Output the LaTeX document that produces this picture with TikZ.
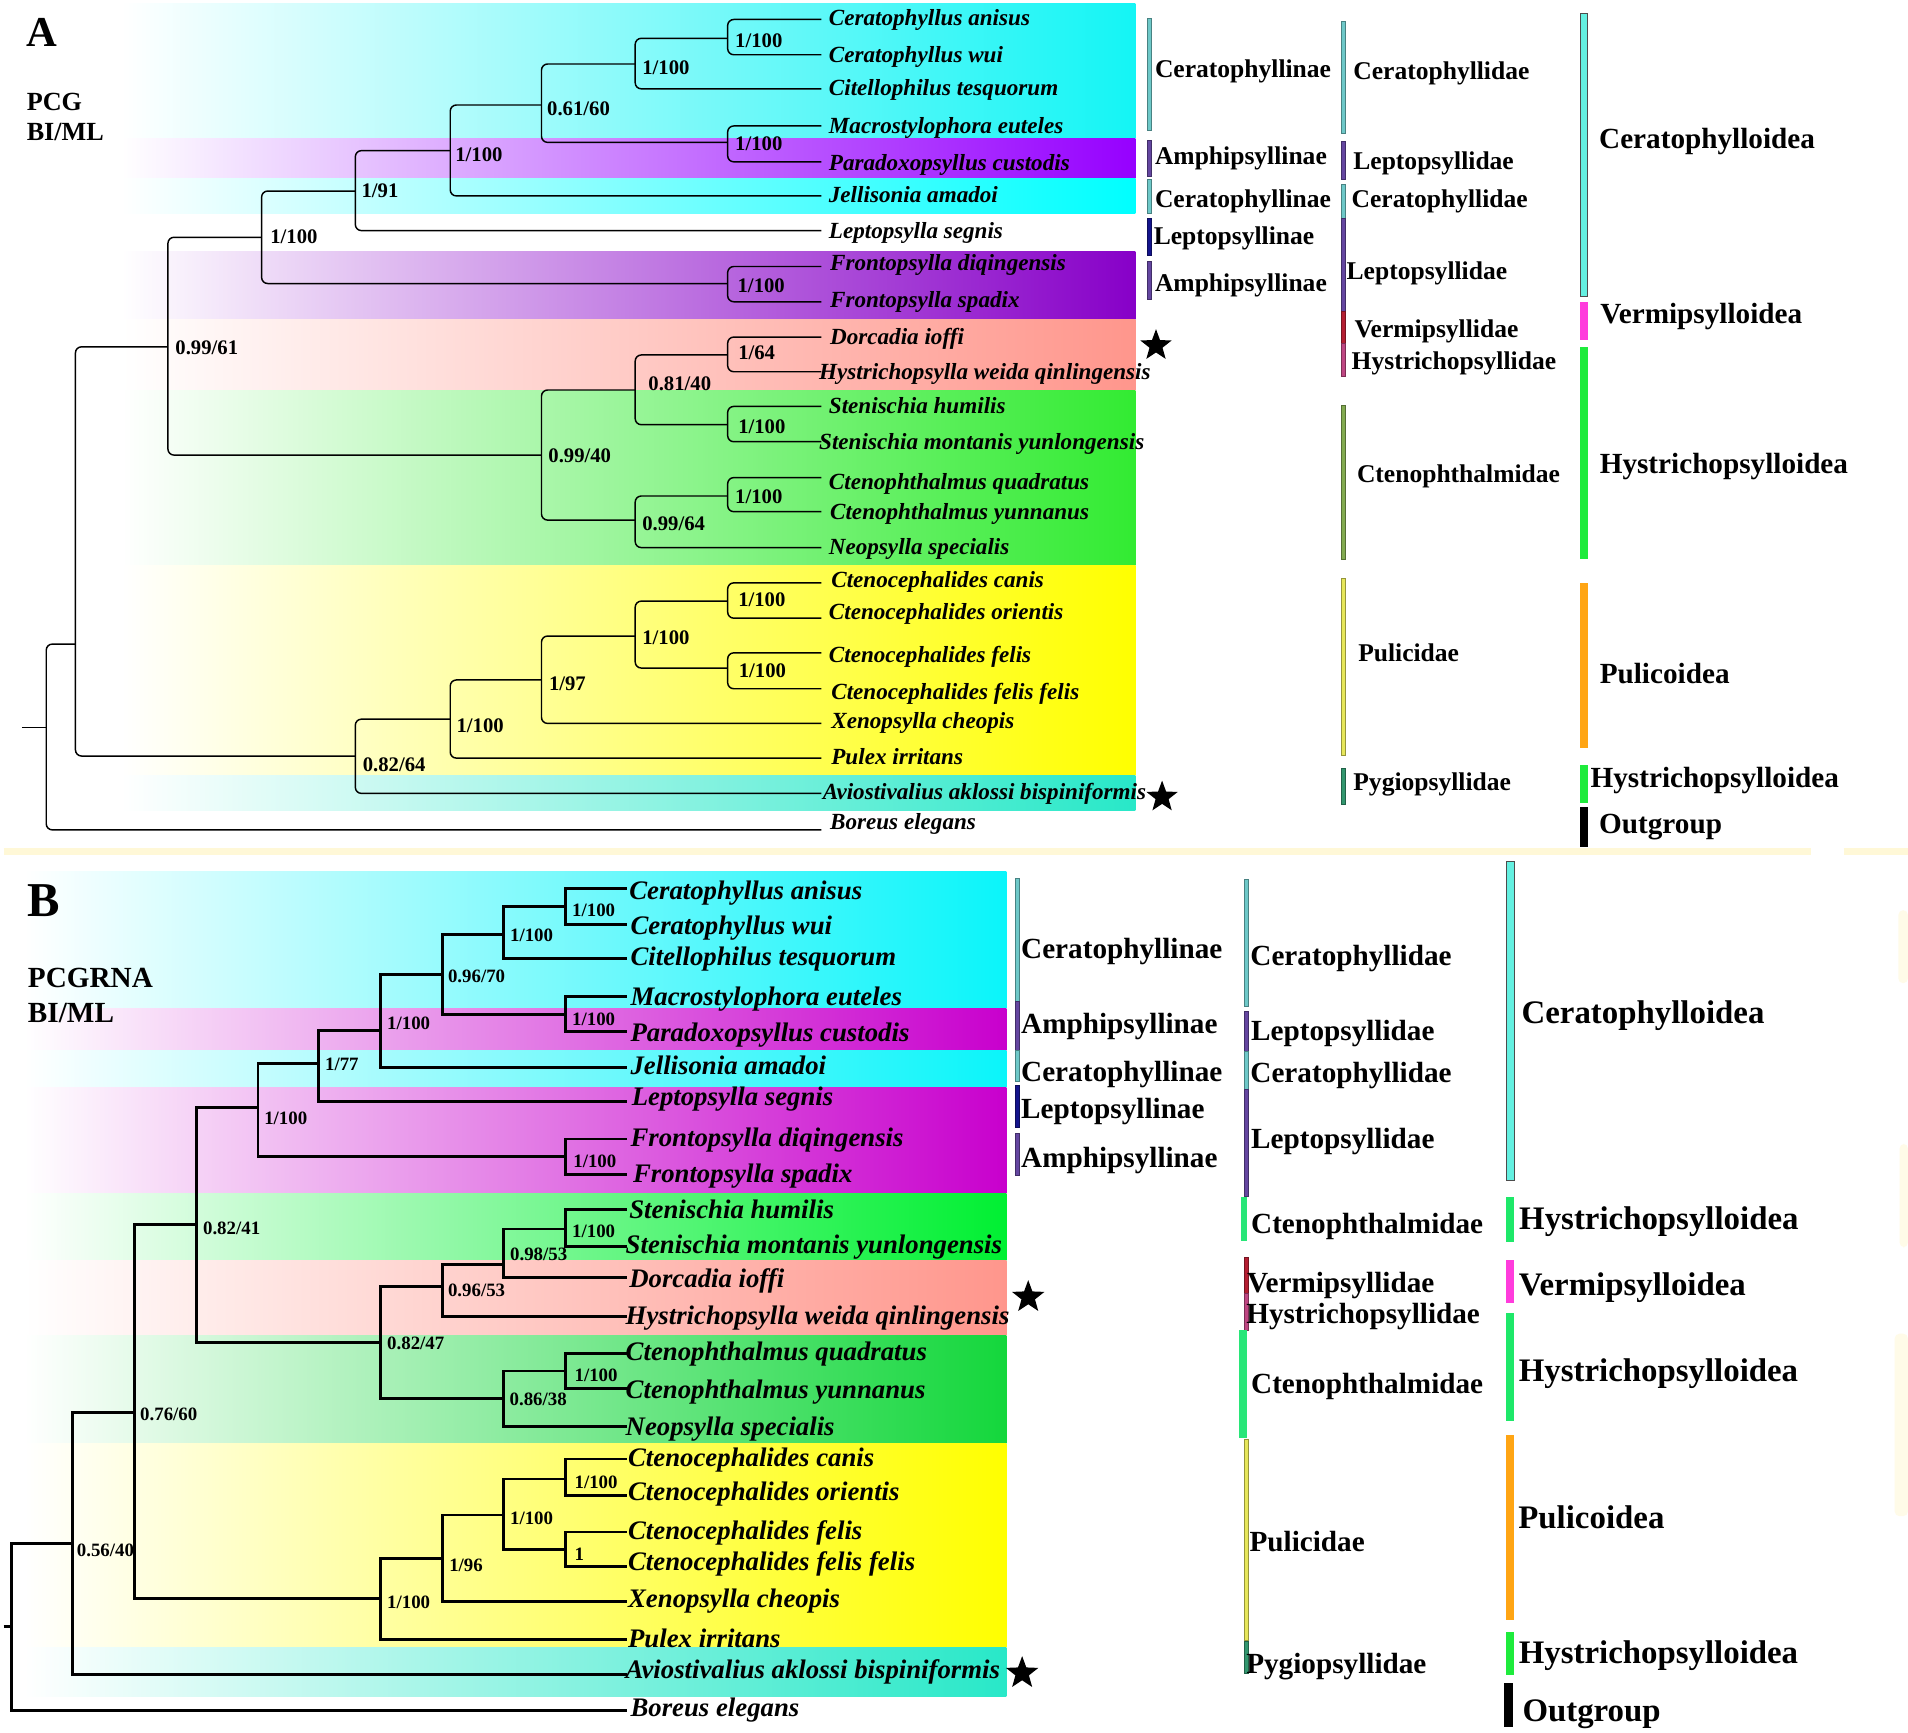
\documentclass[tikz,border=0pt]{standalone}
\usepackage{fontspec}
\setmainfont{Liberation Serif}
\usetikzlibrary{shapes.geometric}
% band colours
\definecolor{cyA}{RGB}{20,245,245}
\definecolor{cyA2}{RGB}{0,255,255}
\definecolor{puA1}{RGB}{150,0,255}
\definecolor{puA2}{RGB}{135,0,200}
\definecolor{pkA}{RGB}{255,150,140}
\definecolor{grA}{RGB}{50,235,50}
\definecolor{yeA}{RGB}{255,255,0}
\definecolor{tlA}{RGB}{40,232,200}
\definecolor{cyB}{RGB}{10,245,250}
\definecolor{puB}{RGB}{200,0,205}
\definecolor{grB1}{RGB}{0,240,50}
\definecolor{grB2}{RGB}{20,215,60}
\definecolor{paleY}{RGB}{255,248,215}
\definecolor{paleY2}{RGB}{255,251,232}
% bar colours
\definecolor{cTeal}{RGB}{110,200,200}
\definecolor{cPur}{RGB}{100,70,160}
\definecolor{cBlue}{RGB}{20,20,140}
\definecolor{cRed}{RGB}{180,30,50}
\definecolor{cMauve}{RGB}{190,70,130}
\definecolor{cOlive}{RGB}{130,170,80}
\definecolor{cCtB}{RGB}{40,230,120}
\definecolor{cYel}{RGB}{230,230,90}
\definecolor{cPyg}{RGB}{50,150,110}
\definecolor{sCy}{RGB}{100,240,225}
\definecolor{sMag}{RGB}{255,60,220}
\definecolor{sGr}{RGB}{30,235,60}
\definecolor{sGrB}{RGB}{30,232,105}
\definecolor{sOr}{RGB}{255,165,20}
\tikzset{
  brA/.style={line width=1.2pt, rounded corners=5pt},
  brB/.style={line width=2.4pt},
  spA/.style={anchor=base west, inner sep=0pt, font=\fontsize{19}{19}\selectfont\bfseries\itshape},
  spB/.style={anchor=base west, inner sep=0pt, font=\fontsize{22}{22}\selectfont\bfseries\itshape},
  supA/.style={anchor=west, inner sep=0pt, font=\fontsize{17}{17}\selectfont\bfseries},
  supB/.style={anchor=west, inner sep=0pt, font=\fontsize{15.5}{15.5}\selectfont\bfseries},
  labA/.style={anchor=base west, inner sep=0pt, font=\fontsize{21}{21}\selectfont\bfseries},
  labB/.style={anchor=base west, inner sep=0pt, font=\fontsize{24}{24}\selectfont\bfseries},
  supfA/.style={anchor=base west, inner sep=0pt, font=\fontsize{24}{24}\selectfont\bfseries},
  supfB/.style={anchor=base west, inner sep=0pt, font=\fontsize{27}{27}\selectfont\bfseries},
  starmark/.style={star, star points=5, star point ratio=2.4, fill=black, inner sep=0pt, minimum size=27pt},
  thinbar/.style={line width=0.5pt},
}
\begin{document}
\begin{tikzpicture}[x=1pt,y=-1pt]
\useasboundingbox (0,0) rectangle (1568,1424);
\fill[white] (0,0) rectangle (1568,1424);

% ---------------- Panel A bands ----------------
\shade[left color=white, right color=cyA]  (100,2.7)   rectangle (933,113.7);
\shade[left color=white, right color=puA1] (100,113.7) rectangle (933,146.5);
\shade[left color=white, right color=cyA2] (100,146.5) rectangle (933,175.3);
\shade[left color=white, right color=puA2] (100,206.8) rectangle (933,262.2);
\shade[left color=white, right color=pkA]  (100,262.2) rectangle (933,320.5);
\shade[left color=white, right color=grA]  (100,320.5) rectangle (933,464.4);
\shade[left color=white, right color=yeA]  (100,464.4) rectangle (933,637.7);
\shade[left color=white, right color=tlA]  (100,637.7) rectangle (933,666.2);

% separator
\draw[line width=5.5pt, paleY] (3,700) -- (1488,700);
\draw[line width=5.5pt, paleY] (1515,700) -- (1568,700);

% ---------------- Panel B bands ----------------
\shade[left color=white, right color=cyB]  (20,716)    rectangle (827,828.6);
\shade[left color=white, right color=puB]  (20,828.6)  rectangle (827,863);
\shade[left color=white, right color=cyB]  (20,863)    rectangle (827,894);
\shade[left color=white, right color=puB]  (20,894)    rectangle (827,980.6);
\shade[left color=white, right color=grB1] (20,980.6)  rectangle (827,1036);
\shade[left color=white, right color=pkA]  (20,1036)   rectangle (827,1097.7);
\shade[left color=white, right color=grB2] (20,1097.7) rectangle (827,1186);
\shade[left color=white, right color=yeA]  (20,1186)   rectangle (827,1354);
\shade[left color=white, right color=tlA]  (20,1354)   rectangle (827,1394);

% faint marks at right edge of panel B
\fill[paleY2, rounded corners=4pt] (1560,748) rectangle (1568,808);
\fill[paleY2, rounded corners=4pt] (1561,940) rectangle (1568,1025);
\fill[paleY2, rounded corners=4pt] (1557,1096) rectangle (1568,1246);

% ---------------- Panel titles ----------------
\node[anchor=base west, inner sep=0pt, font=\fontsize{35}{35}\selectfont\bfseries] (titA) at (21.8,38.3) {A};
\node[anchor=base west, inner sep=0pt, font=\fontsize{21.5}{21.5}\selectfont\bfseries] (pcgA) at (21.8,90.4) {PCG};
\node[anchor=base west, inner sep=0pt, font=\fontsize{21.5}{21.5}\selectfont\bfseries] (bimlA) at (21.8,115.6) {BI/ML};
\node[anchor=base west, inner sep=0pt, font=\fontsize{40}{40}\selectfont\bfseries] (titB) at (22.8,753.3) {B};
\node[anchor=base west, inner sep=0pt, font=\fontsize{24}{24}\selectfont\bfseries] (pcgB) at (22.8,811.3) {PCGRNA};
\node[anchor=base west, inner sep=0pt, font=\fontsize{24}{24}\selectfont\bfseries] (bimlB) at (22.8,840) {BI/ML};

% ---------------- Panel A leaves ----------------
\foreach \i/\yb/\yt/\xt/\nm in {
 1/16/20.7/681/Ceratophyllus anisus,
 2/45/51.2/681/Ceratophyllus wui,
 3/73/78.8/681/Citellophilus tesquorum,
 4/103.5/109.5/681/Macrostylophora euteles,
 5/133/139.9/681/Paradoxopsyllus custodis,
 6/161/166.7/681/Jellisonia amadoi,
 7/189.5/195.7/681/Leptopsylla segnis,
 8/219/222.2/682/Frontopsylla diqingensis,
 9/248/253/682/Frontopsylla spadix,
 10/277/283.4/682/Dorcadia ioffi,
 11/305.5/312.2/673/Hystrichopsylla weida qinlingensis,
 12/334/340.2/681/Stenischia humilis,
 13/363/369.2/673/Stenischia montanis yunlongensis,
 14/392.5/402.1/681/Ctenophthalmus quadratus,
 15/420.5/426.7/682/Ctenophthalmus yunnanus,
 16/450/456/681/Neopsylla specialis,
 17/479/482.6/683/Ctenocephalides canis,
 18/508/509.2/681/Ctenocephalides orientis,
 19/536.5/544.1/681/Ctenocephalides felis,
 20/566/575/683/Ctenocephalides felis felis,
 21/594.5/599/683/Xenopsylla cheopis,
 22/623/628.2/683/Pulex irritans,
 23/652/657.1/676/Aviostivalius aklossi bispiniformis,
 24/682/681.7/682/Boreus elegans}{
  \coordinate (lA\i) at (675,\yb);
  \node[spA] (tA\i) at (\xt,\yt) {\nm};
}

% ---------------- Panel B leaves ----------------
\foreach \i/\yb/\yt/\xt/\nm in {
 1/730/739/517/Ceratophyllus anisus,
 2/760/768.3/518/Ceratophyllus wui,
 3/788/793.8/518/Citellophilus tesquorum,
 4/819/826.7/518/Macrostylophora euteles,
 5/848/856/518/Paradoxopsyllus custodis,
 6/877/882.8/518/Jellisonia amadoi,
 7/905/908.9/519/Leptopsylla segnis,
 8/936/942.3/518/Frontopsylla diqingensis,
 9/965/971.9/520/Frontopsylla spadix,
 10/994/1001/517/Stenischia humilis,
 11/1024/1030/514/Stenischia montanis yunlongensis,
 12/1050/1058/517/Dorcadia ioffi,
 13/1082/1088.3/514/Hystrichopsylla weida qinlingensis,
 14/1112/1118.4/514/Ctenophthalmus quadratus,
 15/1141/1149.1/514/Ctenophthalmus yunnanus,
 16/1172/1180/514/Neopsylla specialis,
 17/1199/1205.3/516/Ctenocephalides canis,
 18/1229/1233.2/516/Ctenocephalides orientis,
 19/1259/1265/516/Ctenocephalides felis,
 20/1287/1291/516/Ctenocephalides felis felis,
 21/1316/1320.9/516/Xenopsylla cheopis,
 22/1347/1353.7/516/Pulex irritans,
 23/1376/1379.2/514/Aviostivalius aklossi bispiniformis,
 24/1406/1410.7/518/Boreus elegans}{
  \coordinate (lB\i) at (515,\yb);
  \node[spB] (tB\i) at (\xt,\yt) {\nm};
}

% ---------------- Support values A ----------------
\node[supA] (sa1) at (604,33.4) {1/100};
\node[supA] (sa2) at (527.7,56) {1/100};
\node[supA] (sa3) at (449.5,89) {0.61/60};
\node[supA] (sa4) at (604,118) {1/100};
\node[supA] (sa5) at (374,127) {1/100};
\node[supA] (sa6) at (297,156.7) {1/91};
\node[supA] (sa7) at (606,235) {1/100};
\node[supA] (sa8) at (222,194.5) {1/100};
\node[supA] (sa9) at (144,286) {0.99/61};
\node[supA] (sa10) at (606.5,290) {1/64};
\node[supA] (sa11) at (532.7,315.5) {0.81/40};
\node[supA] (sa12) at (606.5,350.7) {1/100};
\node[supA] (sa13) at (450.5,374.8) {0.99/40};
\node[supA] (sa14) at (604,408) {1/100};
\node[supA] (sa15) at (527.7,430.7) {0.99/64};
\node[supA] (sa17) at (606.5,492.6) {1/100};
\node[supA] (sa18) at (607,551) {1/100};
\node[supA] (sa19) at (527.7,523.8) {1/100};
\node[supA] (sa20) at (451,562) {1/97};
\node[supA] (sa21) at (375,596.6) {1/100};
\node[supA] (sa22) at (298,628.7) {0.82/64};

% ---------------- Support values B ----------------
\node[supB] (sb1) at (470,748) {1/100};
\node[supB] (sb2) at (419,769) {1/100};
\node[supB] (sb3) at (368,802) {0.96/70};
\node[supB] (sb4) at (470,838) {1/100};
\node[supB] (sb5) at (318,841) {1/100};
\node[supB] (sb6) at (267,875) {1/77};
\node[supB] (sb7) at (471,954) {1/100};
\node[supB] (sb8) at (217,919) {1/100};
\node[supB] (sb9) at (166.7,1009.4) {0.82/41};
\node[supB] (sb10) at (470,1012) {1/100};
\node[supB] (sb11) at (419,1031) {0.98/53};
\node[supB] (sb12) at (368,1060) {0.96/53};
\node[supB] (sb13) at (318,1104) {0.82/47};
\node[supB] (sb14) at (472,1130) {1/100};
\node[supB] (sb15) at (418.6,1150) {0.86/38};
\node[supB] (sb16) at (115,1162) {0.76/60};
\node[supB] (sb17) at (472,1218) {1/100};
\node[supB] (sb18) at (472,1277) {1};
\node[supB] (sb19) at (419,1248) {1/100};
\node[supB] (sb20) at (369,1286) {1/96};
\node[supB] (sb21) at (318,1317) {1/100};
\node[supB] (sb22) at (63,1274) {0.56/40};

% ---------------- Tree A ----------------
\coordinate (a1) at (598,31.5);
\coordinate (a2) at (522,52.6);
\coordinate (a3) at (445,86.3);
\coordinate (a4) at (598,117);
\coordinate (a5) at (370,123.8);
\coordinate (a6) at (292,157);
\coordinate (a7) at (598,233);
\coordinate (a8) at (215,195);
\coordinate (a9) at (138,285);
\coordinate (a10) at (598,291.7);
\coordinate (a11) at (522,320.5);
\coordinate (a12) at (598,349);
\coordinate (a13) at (445,374);
\coordinate (a14) at (598,407.6);
\coordinate (a15) at (522,427.4);
\coordinate (a16) at (62,529.3);
\coordinate (a17) at (598,494);
\coordinate (a18) at (598,549);
\coordinate (a19) at (522,522.7);
\coordinate (a20) at (445,558.8);
\coordinate (a21) at (370,591);
\coordinate (a22) at (292,621.3);
\coordinate (rA) at (38,598);
\coordinate (sA) at (18,598);
\foreach \p/\c/\d in {a1/lA1/lA2, a2/a1/lA3, a4/lA4/lA5, a3/a2/a4, a5/a3/lA6,
  a6/a5/lA7, a7/lA8/lA9, a8/a6/a7, a10/lA10/lA11, a12/lA12/lA13, a11/a10/a12,
  a14/lA14/lA15, a15/a14/lA16, a13/a11/a15, a9/a8/a13, a17/lA17/lA18,
  a18/lA19/lA20, a19/a17/a18, a20/a19/lA21, a21/a20/lA22, a22/a21/lA23,
  a16/a9/a22, rA/a16/lA24}{
  \draw[brA] (\c) -| (\p) |- (\d);
}
\draw[brA] (sA) -- (rA);

% ---------------- Tree B ----------------
\coordinate (b1) at (464.5,745);
\coordinate (b2) at (414,768);
\coordinate (b3) at (364,801);
\coordinate (b4) at (464.5,833.5);
\coordinate (b5) at (313,847);
\coordinate (b6) at (262,874);
\coordinate (b7) at (464.5,950.5);
\coordinate (b8) at (212,910.4);
\coordinate (b9) at (161.7,1006.6);
\coordinate (b10) at (464.5,1010);
\coordinate (b11) at (414,1039.5);
\coordinate (b12) at (364,1057);
\coordinate (b13) at (313,1103);
\coordinate (b14) at (464.5,1126.7);
\coordinate (b15) at (414,1149);
\coordinate (b16) at (110.7,1160.9);
\coordinate (b17) at (464.5,1215.4);
\coordinate (b18) at (464.5,1273);
\coordinate (b19) at (414,1245);
\coordinate (b20) at (364,1280.6);
\coordinate (b21) at (313,1313.5);
\coordinate (b22) at (59.7,1268.8);
\coordinate (rB) at (9.4,1337);
\coordinate (sB) at (3,1337);
\foreach \p/\c/\d in {b1/lB1/lB2, b2/b1/lB3, b4/lB4/lB5, b3/b2/b4, b5/b3/lB6,
  b6/b5/lB7, b7/lB8/lB9, b8/b6/b7, b10/lB10/lB11, b11/b10/lB12, b12/b11/lB13,
  b14/lB14/lB15, b15/b14/lB16, b13/b12/b15, b9/b8/b13, b17/lB17/lB18,
  b18/lB19/lB20, b19/b17/b18, b20/b19/lB21, b21/b20/lB22, b16/b9/b21,
  b22/b16/lB23, rB/b22/lB24}{
  \draw[brB] (\c) -| (\p) |- (\d);
}
\draw[brB] (sB) -- (rB);

% ---------------- Stars ----------------
\node[starmark] (stA1) at (950,284) {};
\node[starmark] (stA2) at (955,655) {};
\node[starmark, minimum size=28pt] (stB1) at (845,1066) {};
\node[starmark, minimum size=28pt] (stB2) at (840,1375) {};

% ---------------- Panel A: annotation bars ----------------
\foreach \ya/\yb/\c in {15/107/cTeal, 115/144.6/cPur, 147/175/cTeal, 179/209.5/cBlue, 215/246/cPur}{
  \filldraw[thinbar, fill=\c, draw=\c!65!black] (942.6,\ya) rectangle (945.8,\yb);
}
\foreach \ya/\yb/\c in {17.8/109.6/cTeal, 116/147/cPur, 151.5/179.4/cTeal, 179.4/256/cPur,
  256/282/cRed, 282/309.5/cMauve, 333/460/cOlive, 475/621/cYel, 631/660.7/cPyg}{
  \filldraw[thinbar, fill=\c, draw=\c!65!black] (1102.5,\ya) rectangle (1105.9,\yb);
}
\filldraw[line width=0.6pt, fill=sCy, draw=black!70] (1298.4,11) rectangle (1304.6,243.8);
\fill[sMag] (1298.4,248) rectangle (1304.6,279);
\fill[sGr] (1298.4,285) rectangle (1304.6,459);
\fill[sOr] (1298.4,479) rectangle (1304.6,615);
\fill[sGr] (1298.4,628.7) rectangle (1304.6,660);
\fill[black] (1298.4,663.5) rectangle (1304.6,696);

\node[labA] (sfa1) at (949,63.8) {Ceratophyllinae};
\node[labA] (sfa2) at (949,135) {Amphipsyllinae};
\node[labA] (sfa3) at (949,170.3) {Ceratophyllinae};
\node[labA] (sfa4) at (948,201.3) {Leptopsyllinae};
\node[labA] (sfa5) at (949,239.3) {Amphipsyllinae};
\node[labA] (fa1) at (1112,65.3) {Ceratophyllidae};
\node[labA] (fa2) at (1112,139.7) {Leptopsyllidae};
\node[labA] (fa3) at (1110.6,170.3) {Ceratophyllidae};
\node[labA] (fa4) at (1106.5,229.3) {Leptopsyllidae};
\node[labA] (fa5) at (1113,277.3) {Vermipsyllidae};
\node[labA] (fa6) at (1110.6,303.3) {Hystrichopsyllidae};
\node[labA] (fa7) at (1115,396.7) {Ctenophthalmidae};
\node[labA] (fa8) at (1116,543.3) {Pulicidae};
\node[labA] (fa9) at (1112,650) {Pygiopsyllidae};
\node[supfA] (ua1) at (1314,122.2) {Ceratophylloidea};
\node[supfA] (ua2) at (1315,266.2) {Vermipsylloidea};
\node[supfA] (ua3) at (1314.5,389.2) {Hystrichopsylloidea};
\node[supfA] (ua4) at (1314.5,561.9) {Pulicoidea};
\node[supfA] (ua5) at (1307,646.8) {Hystrichopsylloidea};
\node[supfA] (ua6) at (1314,685.2) {Outgroup};

% ---------------- Panel B: annotation bars ----------------
\foreach \ya/\yb/\c in {721.8/823/cTeal, 823/863/cPur, 863/889/cTeal, 891.6/926/cBlue, 931/965.6/cPur}{
  \filldraw[thinbar, fill=\c, draw=\c!65!black] (834.6,\ya) rectangle (838,\yb);
}
\foreach \ya/\yb/\c in {723/827/cTeal, 831.3/864/cPur, 864/895/cTeal, 895/983/cPur,
  1033/1062.8/cRed, 1062.8/1093/cMauve, 1183/1347.7/cYel, 1349/1375/cPyg}{
  \filldraw[thinbar, fill=\c, draw=\c!65!black] (1022.2,\ya) rectangle (1025.8,\yb);
}
\fill[cCtB] (1019.5,983.4) rectangle (1025,1020);
\fill[cCtB] (1018.5,1093) rectangle (1025,1182);
\filldraw[line width=0.6pt, fill=sCy, draw=black!70] (1237.6,708) rectangle (1244.3,969.7);
\fill[sGrB] (1237.6,983.4) rectangle (1244.3,1021);
\fill[sMag] (1237.6,1035.4) rectangle (1244.3,1070.5);
\fill[sGrB] (1237.6,1078.7) rectangle (1244.3,1167.7);
\fill[sOr] (1237.6,1179) rectangle (1244.3,1331);
\fill[sGr] (1237.6,1341.4) rectangle (1244.3,1376.5);
\fill[black] (1236,1383.3) rectangle (1243.6,1419.5);

\node[labB] (sfb1) at (839,787.9) {Ceratophyllinae};
\node[labB] (sfb2) at (839,849.2) {Amphipsyllinae};
\node[labB] (sfb3) at (839,888.7) {Ceratophyllinae};
\node[labB] (sfb4) at (839,919.2) {Leptopsyllinae};
\node[labB] (sfb5) at (839,959.2) {Amphipsyllinae};
\node[labB] (fb1) at (1027.4,793.2) {Ceratophyllidae};
\node[labB] (fb2) at (1028,855) {Leptopsyllidae};
\node[labB] (fb3) at (1027.4,889.2) {Ceratophyllidae};
\node[labB] (fb4) at (1028,944.2) {Leptopsyllidae};
\node[labB] (fb5) at (1028,1013.8) {Ctenophthalmidae};
\node[labB] (fb6) at (1024.7,1061.8) {Vermipsyllidae};
\node[labB] (fb7) at (1024,1087.8) {Hystrichopsyllidae};
\node[labB] (fb8) at (1028,1145.2) {Ctenophthalmidae};
\node[labB] (fb9) at (1026.7,1275.2) {Pulicidae};
\node[labB] (fb10) at (1024,1375.2) {Pygiopsyllidae};
\node[supfB] (ub1) at (1250.3,840.8) {Ceratophylloidea};
\node[supfB] (ub2) at (1248.3,1010.6) {Hystrichopsylloidea};
\node[supfB] (ub3) at (1248,1065) {Vermipsylloidea};
\node[supfB] (ub4) at (1248,1135.3) {Hystrichopsylloidea};
\node[supfB] (ub5) at (1247.6,1255.8) {Pulicoidea};
\node[supfB] (ub6) at (1248,1366.8) {Hystrichopsylloidea};
\node[supfB] (ub7) at (1251,1414.7) {Outgroup};
\end{tikzpicture}
\end{document}
